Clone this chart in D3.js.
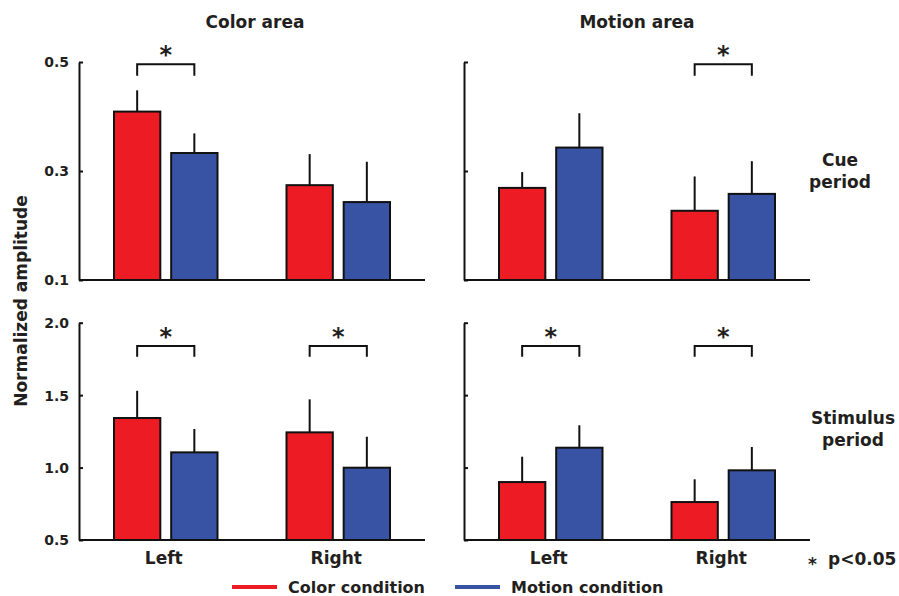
<!DOCTYPE html>
<html>
<head>
<meta charset="utf-8">
<script src="https://cdn.jsdelivr.net/npm/d3@7"></script>
<style>
  body { margin: 0; background: #fff; }
  svg text { font-family: "DejaVu Sans", Verdana, sans-serif; font-weight: bold; fill: #231f20; }
</style>
</head>
<body>
<script>
// categories
var sides = ["Left", "Right"];
var conditions = ["Color condition", "Motion condition"];
var areas = ["Color area", "Motion area"];
var periods = ["Cue period", "Stimulus period"];

// tick labels
var cueTicks = [0.1, 0.3, 0.5];
var stimTicks = [0.5, 1.0, 1.5, 2.0];

// means [Left, Right] and error bar sizes
var cueColorAreaColor = [0.409, 0.274],  cueColorAreaColorErr = [0.039, 0.057];
var cueColorAreaMotion = [0.333, 0.243], cueColorAreaMotionErr = [0.036, 0.074];
var cueMotionAreaColor = [0.269, 0.227], cueMotionAreaColorErr = [0.029, 0.063];
var cueMotionAreaMotion = [0.343, 0.258], cueMotionAreaMotionErr = [0.063, 0.060];
var stimColorAreaColor = [1.342, 1.243], stimColorAreaColorErr = [0.188, 0.228];
var stimColorAreaMotion = [1.105, 0.999], stimColorAreaMotionErr = [0.161, 0.214];
var stimMotionAreaColor = [0.900, 0.762], stimMotionAreaColorErr = [0.175, 0.157];
var stimMotionAreaMotion = [1.137, 0.981], stimMotionAreaMotionErr = [0.155, 0.161];

// which sides carry a significance bracket
var cueColorAreaSig = ["Left"];
var cueMotionAreaSig = ["Right"];
var stimColorAreaSig = ["Left", "Right"];
var stimMotionAreaSig = ["Left", "Right"];

var width = 899, height = 596;
var red = "#ed1c24", blue = "#3953a4";
var color = d3.scaleOrdinal().domain(conditions).range([red, blue]);

var svg = d3.select("body").append("svg")
    .attr("width", width)
    .attr("height", height);

// panel layout
var colX = [79, 464], panelW = 346;
var rowY = [{top: 62, bottom: 280}, {top: 322.7, bottom: 540}];

var panels = [
  {row: 0, col: 0, domain: [0.1, 0.5], ticks: cueTicks, labels: true, bracket: [0.475, 0.496],
   color: cueColorAreaColor, colorErr: cueColorAreaColorErr, motion: cueColorAreaMotion, motionErr: cueColorAreaMotionErr, sig: cueColorAreaSig},
  {row: 0, col: 1, domain: [0.1, 0.5], ticks: cueTicks, labels: false, bracket: [0.475, 0.496],
   color: cueMotionAreaColor, colorErr: cueMotionAreaColorErr, motion: cueMotionAreaMotion, motionErr: cueMotionAreaMotionErr, sig: cueMotionAreaSig},
  {row: 1, col: 0, domain: [0.5, 2.0], ticks: stimTicks, labels: true, bracket: [1.765, 1.84],
   color: stimColorAreaColor, colorErr: stimColorAreaColorErr, motion: stimColorAreaMotion, motionErr: stimColorAreaMotionErr, sig: stimColorAreaSig},
  {row: 1, col: 1, domain: [0.5, 2.0], ticks: stimTicks, labels: false, bracket: [1.765, 1.84],
   color: stimMotionAreaColor, colorErr: stimMotionAreaColorErr, motion: stimMotionAreaMotion, motionErr: stimMotionAreaMotionErr, sig: stimMotionAreaSig}
];

panels.forEach(function(p) {
  var x0 = colX[p.col];
  var r = rowY[p.row];

  var x = d3.scaleBand().domain(sides)
      .range([x0 + 35, x0 + 311])
      .paddingInner(0.4);
  var xc = d3.scaleBand().domain(conditions)
      .range([0, x.bandwidth()])
      .paddingInner(0.19);
  var y = d3.scaleLinear().domain(p.domain).range([r.bottom, r.top]);

  var g = svg.append("g");

  // y axis
  var yAxis = d3.axisLeft(y)
      .tickValues(p.ticks)
      .tickSizeInner(-4)
      .tickSizeOuter(0)
      .tickPadding(10)
      .tickFormat(p.labels ? d3.format(".1f") : function() { return ""; });
  var ya = g.append("g")
      .attr("transform", "translate(" + x0 + ",0)")
      .call(yAxis);
  ya.selectAll("path, line").attr("stroke", "#111").attr("stroke-width", 2);
  ya.selectAll("text").attr("font-size", 14).attr("dy", "0.35em");

  // x baseline
  g.append("line")
      .attr("x1", x0).attr("x2", x0 + panelW)
      .attr("y1", r.bottom).attr("y2", r.bottom)
      .attr("stroke", "#111").attr("stroke-width", 2);

  var rows = [];
  sides.forEach(function(s, i) {
    rows.push({side: s, cond: conditions[0], v: p.color[i], e: p.colorErr[i]});
    rows.push({side: s, cond: conditions[1], v: p.motion[i], e: p.motionErr[i]});
  });

  // error bars (drawn first, upward only)
  g.selectAll(".err").data(rows).enter().append("line")
      .attr("class", "err")
      .attr("x1", function(d) { return x(d.side) + xc(d.cond) + xc.bandwidth() / 2; })
      .attr("x2", function(d) { return x(d.side) + xc(d.cond) + xc.bandwidth() / 2; })
      .attr("y1", function(d) { return y(d.v); })
      .attr("y2", function(d) { return y(d.v + d.e); })
      .attr("stroke", "#111").attr("stroke-width", 2);

  // bars
  g.selectAll(".bar").data(rows).enter().append("rect")
      .attr("class", "bar")
      .attr("x", function(d) { return x(d.side) + xc(d.cond); })
      .attr("width", xc.bandwidth())
      .attr("y", function(d) { return y(d.v); })
      .attr("height", function(d) { return y(p.domain[0]) - y(d.v); })
      .attr("fill", function(d) { return color(d.cond); })
      .attr("stroke", "#111").attr("stroke-width", 2);

  // significance brackets
  p.sig.forEach(function(s) {
    var xa = x(s) + xc(conditions[0]) + xc.bandwidth() / 2;
    var xb = x(s) + xc(conditions[1]) + xc.bandwidth() / 2;
    var yl = y(p.bracket[1]), ye = y(p.bracket[0]);
    g.append("path")
        .attr("d", "M" + xa + "," + ye + "V" + yl + "H" + xb + "V" + ye)
        .attr("fill", "none").attr("stroke", "#111").attr("stroke-width", 2);
    g.append("text")
        .attr("x", (xa + xb) / 2)
        .attr("y", yl - 1)
        .attr("text-anchor", "middle")
        .attr("font-size", 24)
        .text("*");
  });

  // side labels under the bottom row
  if (p.row === 1) {
    g.selectAll(".xl").data(sides).enter().append("text")
        .attr("x", function(d) { return x(d) + x.bandwidth() / 2 - 2; })
        .attr("y", 564)
        .attr("text-anchor", "middle")
        .attr("font-size", 17)
        .text(function(d) { return d; });
  }
});

// column titles
svg.selectAll(".title").data(areas).enter().append("text")
    .attr("x", function(d, i) { return [255, 637][i]; })
    .attr("y", 28)
    .attr("text-anchor", "middle")
    .attr("font-size", 17)
    .text(function(d) { return d; });

// row labels on the right
periods.forEach(function(d, i) {
  var words = d.split(" ");
  var t = svg.append("text")
      .attr("x", [840, 853][i])
      .attr("y", [166, 424][i])
      .attr("text-anchor", "middle")
      .attr("font-size", 17);
  words.forEach(function(w, j) {
    t.append("tspan")
        .attr("x", [840, 853][i])
        .attr("dy", j === 0 ? 0 : 22)
        .text(w);
  });
});

// y axis title
svg.append("text")
    .attr("transform", "translate(27,301) rotate(-90)")
    .attr("text-anchor", "middle")
    .attr("font-size", 17)
    .text("Normalized amplitude");

// p-value note
svg.append("text")
    .attr("x", 808).attr("y", 570)
    .attr("font-size", 17)
    .text("*");
svg.append("text")
    .attr("x", 828).attr("y", 565)
    .attr("font-size", 17)
    .text("p<0.05");

// legend
var legend = svg.selectAll(".legend").data(conditions).enter().append("g")
    .attr("transform", function(d, i) { return "translate(" + [232, 455][i] + ",587)"; });
legend.append("line")
    .attr("x1", 0).attr("x2", 45)
    .attr("stroke", function(d) { return color(d); })
    .attr("stroke-width", 4);
legend.append("text")
    .attr("x", 56).attr("y", 6)
    .attr("font-size", 16)
    .text(function(d) { return d; });
</script>
</body>
</html>
